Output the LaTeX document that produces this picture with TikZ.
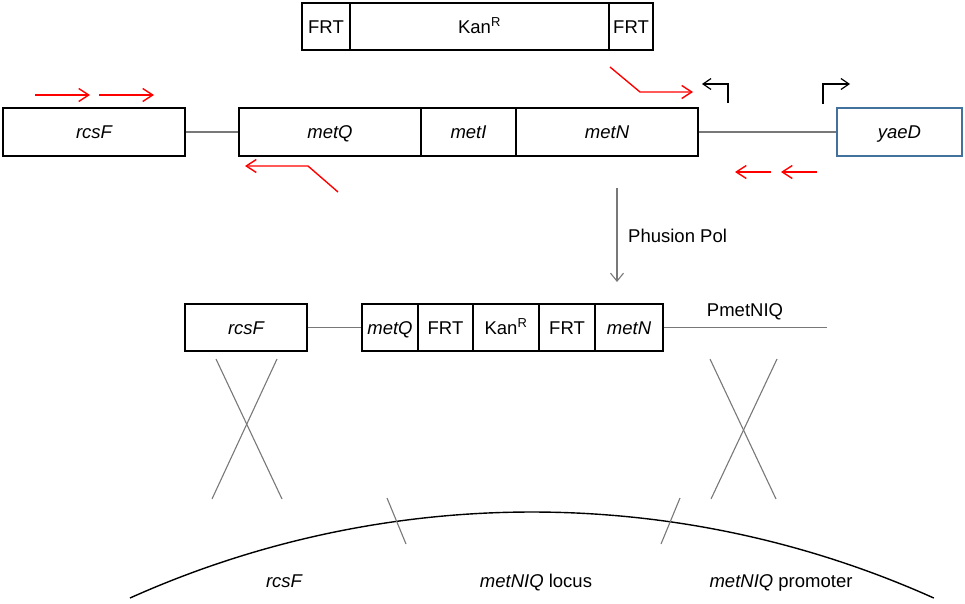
\documentclass[tikz,border=0pt]{standalone}
\usepackage{fontspec}
\setmainfont{Liberation Sans}
\usetikzlibrary{arrows.meta}
\definecolor{boxblue}{RGB}{65,113,156}
\definecolor{linegray}{RGB}{120,120,120}
\tikzset{
  gene/.style={draw=black, line width=1.4pt, rectangle, inner sep=0pt, minimum height=47pt, text height=13.3pt, text depth=0pt, font=\fontsize{18.5}{22}\selectfont},
  link/.style={draw=linegray, line width=1.4pt},
  primer/.style={draw=red, line width=1.4pt, -{Straight Barb[length=10pt,width=13pt,line width=1.4pt]}},
  prom/.style={draw=black, line width=1.2pt, -{Straight Barb[length=8pt,width=11pt,line width=1.2pt]}},
  xover/.style={draw=linegray, line width=1.1pt},
  lbl/.style={inner sep=0pt, anchor=base, font=\fontsize{18.5}{22}\selectfont}
}
\begin{document}
\begin{tikzpicture}[x=1pt, y=-1pt]
\useasboundingbox (0,0) rectangle (965,603);
% top cassette
\node[gene, minimum width=48pt] (frtA) at (326,26.5) {FRT};
\node[gene, minimum width=259pt] (kanA) at (479.5,26.5) {Kan\textsuperscript{R}};
\node[gene, minimum width=44pt] (frtB) at (631,26.5) {FRT};
% row 1
\node[gene, minimum width=182pt, minimum height=48pt] (rcsF) at (94,132) {\itshape rcsF};
\node[gene, minimum width=182pt, minimum height=48pt] (metQ) at (330,132) {\itshape metQ};
\node[gene, minimum width=95pt, minimum height=48pt] (metI) at (468.5,132) {\itshape metI};
\node[gene, minimum width=182pt, minimum height=48pt] (metN) at (607,132) {\itshape metN};
\node[gene, draw=boxblue, minimum width=125pt, minimum height=48pt] (yaeD) at (899.5,132) {\itshape yaeD};
\draw[link] (rcsF.east) -- (metQ.west);
\draw[link] (metN.east) -- (yaeD.west);
% primers
\coordinate (p1a) at (35,95); \coordinate (p1b) at (90,95);
\coordinate (p2a) at (99,95); \coordinate (p2b) at (154,95);
\draw[primer] (p1a) -- (p1b);
\draw[primer] (p2a) -- (p2b);
\coordinate (r1a) at (338,192); \coordinate (r1b) at (308,166); \coordinate (r1c) at (245,166);
\draw[primer] (r1a) -- (r1b) -- (r1c);
\coordinate (f1a) at (610,67); \coordinate (f1b) at (640,92); \coordinate (f1c) at (693,92);
\draw[primer] (f1a) -- (f1b) -- (f1c);
\coordinate (q1a) at (817,172); \coordinate (q1b) at (781,172);
\coordinate (q2a) at (771,172); \coordinate (q2b) at (735,172);
\draw[primer] (q1a) -- (q1b);
\draw[primer] (q2a) -- (q2b);
% promoter arrows
\coordinate (pa1) at (728,103); \coordinate (pa2) at (728,84); \coordinate (pa3) at (702,84);
\draw[prom] (pa1) -- (pa2) -- (pa3);
\coordinate (pb1) at (823,104); \coordinate (pb2) at (823,84); \coordinate (pb3) at (850,84);
\draw[prom] (pb1) -- (pb2) -- (pb3);
% Phusion arrow
\coordinate (ph1) at (617,188); \coordinate (ph2) at (617,282);
\draw[link, line width=1.1pt, -{Straight Barb[length=8pt,width=13pt,line width=1.1pt]}] (ph1) -- (ph2);
\node[lbl, anchor=base west] (phus) at (628,242) {Phusion Pol};
% row 2
\node[gene, minimum width=122pt] (rcsF2) at (246,327.5) {\itshape rcsF};
\node[gene, minimum width=56pt] (metQ2) at (390,327.5) {\itshape metQ};
\node[gene, minimum width=55pt] (frt2a) at (445.5,327.5) {FRT};
\node[gene, minimum width=66pt] (kan2) at (506,327.5) {Kan\textsuperscript{R}};
\node[gene, minimum width=56pt] (frt2b) at (567,327.5) {FRT};
\node[gene, minimum width=68pt] (metN2) at (629,327.5) {\itshape metN};
\coordinate (pend) at (827,327.5);
\draw[link] (rcsF2.east) -- (metQ2.west);
\draw[link] (metN2.east) -- (pend);
\node[lbl] (pmet) at (745,316) {PmetNIQ};
% crossovers
\coordinate (xa1) at (216,359); \coordinate (xa2) at (282,499);
\coordinate (xa3) at (277,359); \coordinate (xa4) at (212,499);
\draw[xover] (xa1) -- (xa2);
\draw[xover] (xa3) -- (xa4);
\coordinate (xb1) at (710,359); \coordinate (xb2) at (776,499);
\coordinate (xb3) at (777,359); \coordinate (xb4) at (711,499);
\draw[xover] (xb1) -- (xb2);
\draw[xover] (xb3) -- (xb4);
% chromosome
\coordinate (chs) at (130,598);
\draw[black, line width=1.4pt] (chs) arc[start angle=114.16, end angle=65.84, radius=982pt];
\coordinate (t1a) at (387,498); \coordinate (t1b) at (406,544);
\coordinate (t2a) at (680,498); \coordinate (t2b) at (661,544);
\draw[xover] (t1a) -- (t1b);
\draw[xover] (t2a) -- (t2b);
\node[lbl] (lb1) at (284,587) {\itshape rcsF};
\node[lbl] (lb2) at (536,587) {\textit{metNIQ} locus};
\node[lbl] (lb3) at (781,587) {\textit{metNIQ} promoter};
\end{tikzpicture}
\end{document}
